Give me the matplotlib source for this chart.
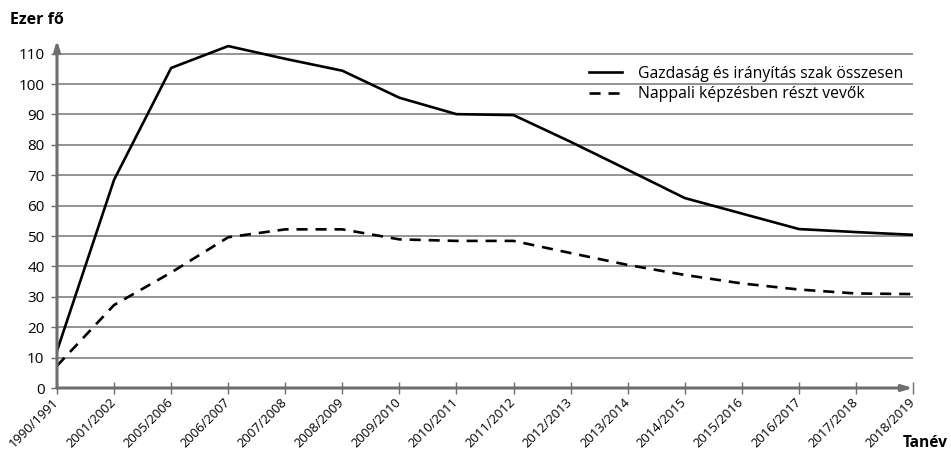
import matplotlib.pyplot as plt

plt.rcParams['font.family'] = ['Open Sans', 'DejaVu Sans']

years = ['1990/1991', '2001/2002', '2005/2006', '2006/2007', '2007/2008',
         '2008/2009', '2009/2010', '2010/2011', '2011/2012', '2012/2013',
         '2013/2014', '2014/2015', '2015/2016', '2016/2017', '2017/2018',
         '2018/2019']
osszesen = [12.2, 68.5, 105.3, 112.5, 108.3, 104.4, 95.5, 90.1, 89.8,
            81.0, 71.8, 62.5, 57.4, 52.3, 51.3, 50.4]
nappali = [7.3, 27.3, 38.0, 49.6, 52.2, 52.2, 48.9, 48.4, 48.4,
           44.4, 40.5, 37.2, 34.4, 32.4, 31.1, 30.9]

fig = plt.figure(figsize=(9.51, 4.58), dpi=100)
ax = fig.add_axes([57 / 951, 70 / 458, (913 - 57) / 951, 348 / 458])

x = list(range(len(years)))
ax.set_xlim(0, len(years) - 1)
ax.set_ylim(0, 114.5)

grid_c = '#8a8a8a'
axis_c = '#6e6e6e'
for v in range(10, 120, 10):
    ax.axhline(v, color=grid_c, lw=1.3, zorder=1)

ax.plot(x, osszesen, color='black', lw=1.9, zorder=3,
        label='Gazdaság és irányítás szak összesen')
ax.plot(x, nappali, color='black', lw=1.9, ls=(0, (4.2, 3.0)), zorder=3,
        label='Nappali képzésben részt vevők')

for s in ax.spines.values():
    s.set_visible(False)

# axes with arrow heads
ax.annotate('', xy=(1.0, 0), xytext=(0, 0), xycoords='axes fraction',
            arrowprops=dict(arrowstyle='-|>,head_length=0.6,head_width=0.18',
                            color=axis_c, lw=2.2, shrinkA=0, shrinkB=0),
            annotation_clip=False, zorder=4)
ax.annotate('', xy=(0, 1.0), xytext=(0, 0), xycoords='axes fraction',
            arrowprops=dict(arrowstyle='-|>,head_length=0.6,head_width=0.18',
                            color=axis_c, lw=2.2, shrinkA=0, shrinkB=0),
            annotation_clip=False, zorder=4)

ax.set_xticks(x)
ax.set_xticklabels(years, rotation=45, ha='right', va='center',
                   rotation_mode='anchor', fontsize=9.4)
ax.tick_params(axis='x', direction='inout', length=8, width=1.0,
               color=axis_c, pad=5)
ax.set_yticks(range(0, 120, 10))
ax.tick_params(axis='y', direction='out', length=4, width=1.0,
               color=axis_c, labelsize=11, pad=5)

fig.text(10 / 951, 1 - 20 / 458, 'Ezer fő', fontsize=11.5, fontweight='bold',
         va='center', ha='left')
fig.text(948 / 951, 1 - 443 / 458, 'Tanév', fontsize=11.2, fontweight='bold',
         va='center', ha='right')

ax.legend(loc='upper right', bbox_to_anchor=(0.996, 0.944), frameon=False,
          fontsize=11.3, handlelength=2.05, labelspacing=0.28,
          handletextpad=1.05, borderaxespad=0)

fig.savefig('out.png', dpi=100)
